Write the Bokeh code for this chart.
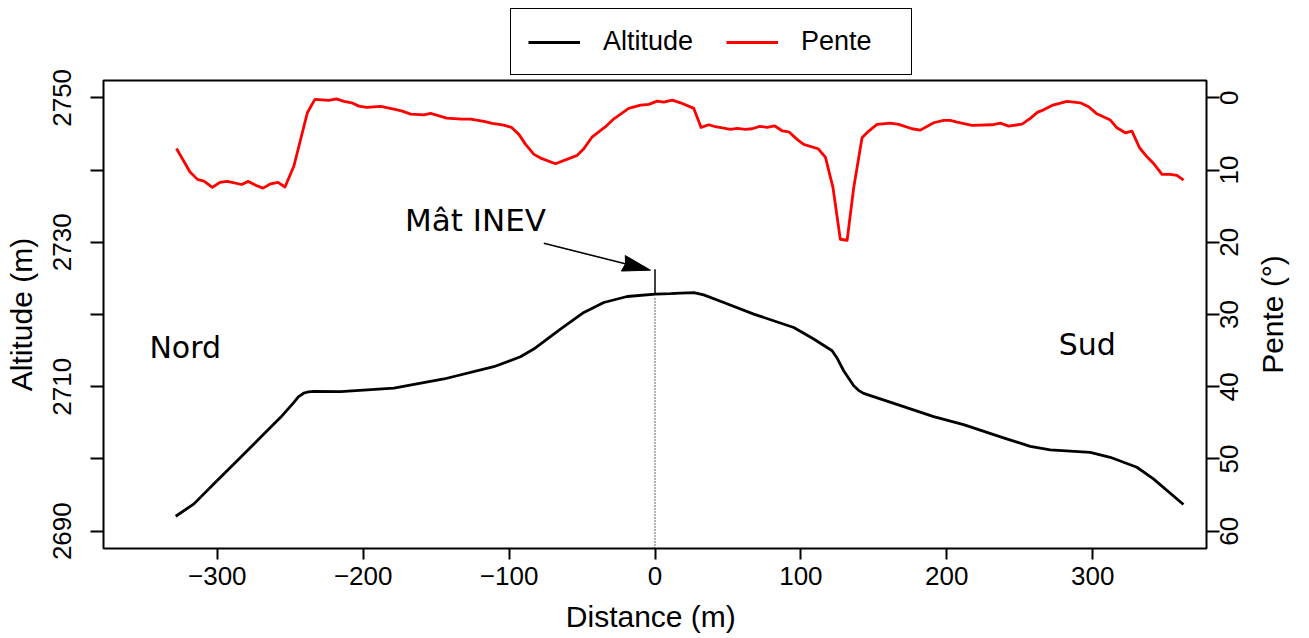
import math
import numpy as np
from bokeh.plotting import figure
from bokeh.models import (Range1d, LinearAxis, FixedTicker, Legend, LegendItem)
from bokeh.core.properties import value
from bokeh.embed import file_html
from bokeh.resources import INLINE

# ---------------- data ----------------
dist_alt = [-328.5, -316, -302.3, -286.2, -270.3, -256.6, -247.5, -244.5, -240.6, -237.5, -233.8, -215.5,
            -179, -144.7, -110.5, -92.2, -83.1, -64.8, -48.8, -35.1, -19.1, 0.3,
            10.6, 17.5, 26.6, 33.4, 47.1, 67.7, 95.1, 108.8, 121.4, 125.0, 129.3,
            136.2, 139.5, 143, 170.4, 191, 211.5, 238.9, 257.2, 270.9, 298.3, 312,
            330.3, 341.6, 362.2]
altitude = [2692.07, 2693.78, 2696.55, 2699.77, 2702.99, 2705.76, 2707.83, 2708.6, 2709.13, 2709.3, 2709.35, 2709.31,
            2709.82, 2711.07, 2712.77, 2714.15, 2715.22, 2717.98, 2720.28, 2721.66, 2722.49, 2722.82,
            2722.88, 2722.96, 2723.04, 2722.72, 2721.66, 2720.05, 2718.2, 2716.6, 2714.98, 2713.9, 2712.21,
            2710.14, 2709.5, 2709.08, 2707.24, 2705.85, 2704.75, 2702.91, 2701.75, 2701.25, 2700.92, 2700.23,
            2698.85, 2697.24, 2693.69]

dist_pente = [-328.0, -318.7, -313.6, -309.1, -303.4, -298.2, -293.1, -283.3, -278.7, -273.7,
              -268.7, -263.4, -258.4, -253.6, -247.5, -238.3, -233.1, -223.5, -218.4, -213.2,
              -207.9, -202.9, -197.6, -188.0, -178.2, -173.2, -167.5, -158.4, -153.8, -142.8,
              -132.5, -126.4, -117.3, -111.5, -103.6, -98.3, -93.3, -88.7, -83.0, -78.4,
              -68.2, -53.3, -48.8, -43.0, -33.9, -28.2, -18.0, -9.9, -4.2, 1.5,
              6.0, 11.8, 17.5, 26.6, 31.6, 36.9, 41.4, 51.7, 56.3, 62.0,
              66.6, 71.8, 76.9, 81.9, 87.1, 91.7, 97.4, 101.9, 111.8, 116.8,
              122.0, 127.0, 131.7, 136.2, 141.9, 146.5, 152.2, 161.3, 167.0, 176.2,
              181.9, 191.0, 197.9, 202.4, 207.0, 217.3, 231.0, 236.7, 242.4, 251.6,
              257.2, 262.3, 266.4, 272.1, 282.4, 291.5, 297.2, 302.5, 312.1, 316.6,
              322.3, 326.9, 332.1, 337.2, 342.2, 347.5, 353.2, 357.7, 362.3]
pente = [7.01, 10.27, 11.29, 11.52, 12.4, 11.7, 11.57, 12.0, 11.57, 12.1,
         12.5, 11.9, 11.7, 12.35, 9.44, 2.07, 0.22, 0.36, 0.14, 0.5,
         0.69, 1.15, 1.33, 1.19, 1.6, 1.84, 2.25, 2.35, 2.16, 2.8,
         2.94, 2.94, 3.27, 3.54, 3.77, 4.1, 5.06, 6.44, 7.83, 8.34,
         9.12, 7.96, 7.05, 5.39, 4.0, 2.9, 1.46, 1.0, 0.91, 0.46,
         0.6, 0.32, 0.69, 1.46, 4.1, 3.73, 4.0, 4.37, 4.23, 4.37,
         4.28, 3.95, 4.09, 3.87, 4.56, 4.7, 5.75, 6.44, 7.05, 8.2,
         12.44, 19.58, 19.72, 12.44, 5.53, 4.6, 3.68, 3.5, 3.68, 4.28,
         4.47, 3.45, 3.13, 3.13, 3.36, 3.82, 3.73, 3.5, 3.91, 3.64,
         2.85, 1.98, 1.66, 1.05, 0.5, 0.69, 1.24, 2.16, 3.08, 4.15,
         4.84, 4.6, 6.91, 8.16, 9.2, 10.59, 10.59, 10.73, 11.38]

x_ticks = [-300, -200, -100, 0, 100, 200, 300]
alt_ticks = [2690, 2700, 2710, 2720, 2730, 2740, 2750]
alt_labeled = [2690, 2710, 2730, 2750]
pente_ticks = [0, 10, 20, 30, 40, 50, 60]

series_names = ["Altitude", "Pente"]
series_colors = ["black", "red"]
x_title = "Distance  (m)"
alt_title = "Altitude (m)"
pente_title = "Pente (°)"

# annotations (data coordinates)
mast_x = 0.0
mast_top = 2726.27
mast_label = "Mât INEV"
mast_label_pos = (-123.0, 2733.06)
arrow_start = (-76.2, 2729.87)
arrow_tip = (-3.1, 2726.14)
side_labels = ["Nord", "Sud"]
side_x = [-322.0, 296.3]
side_y = [2715.48, 2715.85]

# plotting box (R style) in data units
X_BOX = (-378.0, 378.0)
ALT_BOX = (2687.6, 2752.4)
PENTE_BOX = (62.4, -2.4)

# box size in pixels, and extra frame space around it (legend sits above the box)
BOX_W, BOX_H = 1103, 468
PAD_L, PAD_R, PAD_B, PAD_T = 2, 2, 2, 72
FW, FH = BOX_W + PAD_L + PAD_R, BOX_H + PAD_B + PAD_T
kx = BOX_W / (X_BOX[1] - X_BOX[0])
ky = BOX_H / (ALT_BOX[1] - ALT_BOX[0])

x_range = Range1d(X_BOX[0] - PAD_L / kx, X_BOX[1] + PAD_R / kx)
y_range = Range1d(ALT_BOX[0] - PAD_B / ky, ALT_BOX[1] + PAD_T / ky)
pente_range = Range1d(PENTE_BOX[0] + PAD_B / ky, PENTE_BOX[1] - PAD_T / ky)

TICK_FONT = "Liberation Sans"
TICK_PX = 26
TITLE_PX = 30
TICK_SIZE = f"{TICK_PX}px"
TITLE_SIZE = f"{TITLE_PX}px"

p = figure(frame_width=FW, frame_height=FH, x_range=x_range, y_range=y_range,
           output_backend="svg", toolbar_location=None,
           min_border_left=101, min_border_right=93, min_border_top=8, min_border_bottom=88,
           background_fill_color="white", border_fill_color="white",
           outline_line_color=None)
p.extra_y_ranges = {"pente": pente_range}
p.xgrid.visible = False
p.ygrid.visible = False


def style(ax):
    ax.axis_line_color = None
    ax.major_tick_line_color = "black"
    ax.major_tick_line_width = 2
    ax.major_tick_out = 11
    ax.major_tick_in = 2
    ax.minor_tick_line_color = None
    ax.major_label_text_font = TICK_FONT
    ax.major_label_text_font_size = TICK_SIZE
    ax.major_label_text_color = "black"
    ax.axis_label_text_font = TICK_FONT
    ax.axis_label_text_font_size = TITLE_SIZE
    ax.axis_label_text_font_style = "normal"
    ax.axis_label_text_color = "black"


def label_axis(range_name, ticks, texts, orientation, standoff, size):
    """Axis that only shows texts (no tick marks)."""
    ta = LinearAxis(y_range_name=range_name) if range_name else LinearAxis()
    style(ta)
    ta.ticker = FixedTicker(ticks=ticks)
    ta.major_label_overrides = dict(zip(ticks, texts))
    ta.major_label_text_font_size = size
    ta.major_label_orientation = orientation
    ta.major_tick_out = 0
    ta.major_tick_in = 0
    ta.major_tick_line_color = None
    ta.major_label_standoff = standoff
    return ta


xa = p.xaxis[0]
style(xa)
xa.major_tick_out = 9
xa.ticker = FixedTicker(ticks=x_ticks)
xa.major_label_overrides = {t: str(t).replace("-", "\u2212") for t in x_ticks}
xa.axis_label = x_title
xa.major_label_standoff = 7
xa.axis_label_standoff = 12

ya = p.yaxis[0]
style(ya)
ya.ticker = FixedTicker(ticks=alt_ticks)
ya.major_label_overrides = {t: (str(t) if t in alt_labeled else "") for t in alt_ticks}
ya.major_label_orientation = "vertical"
ya.major_label_standoff = 19
p.add_layout(label_axis(None, [0.5 * (ALT_BOX[0] + ALT_BOX[1])], [alt_title], "vertical", 13, TITLE_SIZE), "left")

# right axis: tick marks only, then labels reading bottom-to-top (start-anchored,
# so each label is shifted by half its width to be centred on its tick)
ra = LinearAxis(y_range_name="pente")
style(ra)
ra.ticker = FixedTicker(ticks=pente_ticks)
ra.major_label_overrides = {t: "" for t in pente_ticks}
ra.major_label_text_font_size = "0px"
ra.major_label_standoff = 0
p.add_layout(ra, "right")

pente_texts = [str(t) for t in pente_ticks]
pente_label_pos = [round(t + 0.5 * len(s) * 0.556 * TICK_PX / ky, 3) for t, s in zip(pente_ticks, pente_texts)]
p.add_layout(label_axis("pente", pente_label_pos, pente_texts, math.pi / 2, 10, TICK_SIZE), "right")

title_w = 3.957 * TITLE_PX
title_pos = round(0.5 * (PENTE_BOX[0] + PENTE_BOX[1]) + 0.5 * title_w / ky, 3)
p.add_layout(label_axis("pente", [title_pos], [pente_title], math.pi / 2, 22, TITLE_SIZE), "right")

# R-style box
p.quad(left=[X_BOX[0]], right=[X_BOX[1]], bottom=[ALT_BOX[0]], top=[ALT_BOX[1]],
       fill_color=None, line_color="black", line_width=2)

# series
r_alt = p.line(dist_alt, altitude, line_color=series_colors[0], line_width=2.8, line_join="round")
r_pen = p.line(dist_pente, pente, line_color=series_colors[1], line_width=2.8, line_join="round",
               y_range_name="pente")

# mast: solid part above the profile, dotted part below
alt0 = float(np.interp(mast_x, dist_alt, altitude))
p.segment(x0=[mast_x], y0=[alt0], x1=[mast_x], y1=[mast_top], line_color="black", line_width=1.5)
p.segment(x0=[mast_x], y0=[alt0 - 0.6], x1=[mast_x], y1=[ALT_BOX[0]], line_color="black",
          line_width=1.2, line_dash="1 2")

# arrow (shaft + filled head computed in screen space)
dxp = (arrow_tip[0] - arrow_start[0]) * kx
dyp = -(arrow_tip[1] - arrow_start[1]) * ky
ln = math.hypot(dxp, dyp)
ux, uy = dxp / ln, dyp / ln
HL, HW = 28.0, 8.0
bx, by = -HL * ux, -HL * uy
nx, ny = -uy, ux
head_px = [(0, 0), (bx + HW * nx, by + HW * ny), (bx + 0.08 * HL * ux, by + 0.08 * HL * uy),
           (bx - HW * nx, by - HW * ny)]
head_x = [arrow_tip[0] + hx / kx for hx, hy in head_px]
head_y = [arrow_tip[1] - hy / ky for hx, hy in head_px]
p.segment(x0=[arrow_start[0]], y0=[arrow_start[1]],
          x1=[arrow_tip[0] + bx * 0.6 / kx], y1=[arrow_tip[1] - by * 0.6 / ky],
          line_color="black", line_width=1.6)
p.patch(head_x, head_y, fill_color="black", line_color="black", line_width=1)

# texts
p.text(x=[mast_label_pos[0]], y=[mast_label_pos[1]], text=[mast_label],
       text_font=value("DejaVu Sans"), text_font_size="31px", text_align="center",
       text_baseline="middle", text_color="black")
p.text(x=side_x, y=side_y, text=side_labels,
       text_font=value("DejaVu Sans"), text_font_size="30px", text_align="center",
       text_baseline="middle", text_color="black")

# legend, inside the frame but above the box
legend = Legend(items=[LegendItem(label=series_names[0], renderers=[r_alt]),
                       LegendItem(label=series_names[1], renderers=[r_pen])],
                orientation="horizontal", location=(409, FH - PAD_T + 5),
                label_text_font=TICK_FONT, label_text_font_size="27px", label_text_color="black",
                glyph_width=52, glyph_height=30, label_height=30, label_width=93,
                label_standoff=23, spacing=30, padding=17, margin=0,
                border_line_color="black", border_line_width=1.5, border_line_alpha=1.0,
                background_fill_color="white", background_fill_alpha=1.0)
p.add_layout(legend)

open("out.html", "w").write(file_html(p, INLINE))
